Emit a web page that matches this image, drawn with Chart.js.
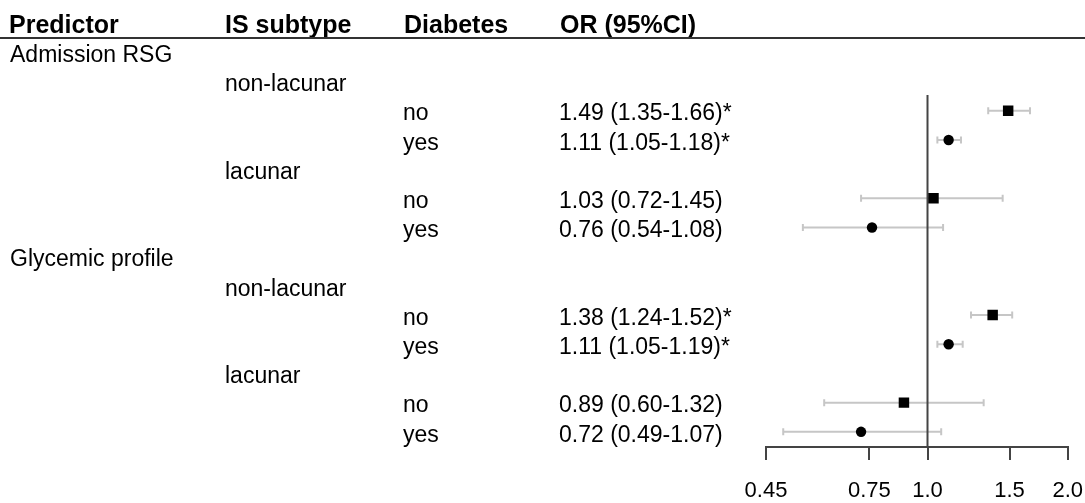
<!DOCTYPE html>
<html><head><meta charset="utf-8">
<script src="https://cdn.jsdelivr.net/npm/chart.js@4.4.1/dist/chart.umd.min.js"></script>
<style>html,body{margin:0;padding:0;background:#fff;} canvas{display:block;}</style>
</head><body>
<canvas id="c" width="1085" height="503"></canvas>
<script>
const predictors = ['Admission RSG', 'Glycemic profile'];
const subtypes = ['non-lacunar', 'lacunar'];
const diabetesLevels = ['no', 'yes'];
const headers = ['Predictor', 'IS subtype', 'Diabetes', 'OR (95%CI)'];
const oddsRatios = [1.49, 1.11, 1.03, 0.76, 1.38, 1.11, 0.89, 0.72];
const ciLower = [1.35, 1.05, 0.72, 0.54, 1.24, 1.05, 0.60, 0.49];
const ciUpper = [1.66, 1.18, 1.45, 1.08, 1.52, 1.19, 1.32, 1.07];
const significant = [true, true, false, false, true, true, false, false];
const tickValues = [0.45, 0.75, 1.0, 1.5, 2.0];
const tickLabels = ['0.45', '0.75', '1.0', '1.5', '2.0'];

function fmtOR(k) {
  return oddsRatios[k].toFixed(2) + ' (' + ciLower[k].toFixed(2) + '-' + ciUpper[k].toFixed(2) + ')' + (significant[k] ? '*' : '');
}

// build table rows
const textRows = [];
const estimates = [];
let rowIdx = 0, k = 0;
predictors.forEach(p => {
  textRows.push({row: rowIdx++, col: 0, text: p});
  subtypes.forEach(s => {
    textRows.push({row: rowIdx++, col: 1, text: s});
    diabetesLevels.forEach((d, di) => {
      textRows.push({row: rowIdx, col: 2, text: d});
      textRows.push({row: rowIdx, col: 3, text: fmtOR(k)});
      estimates.push({row: rowIdx, k: k, d: di});
      rowIdx++; k++;
    });
  });
});

const colX = [10, 225, 403, 559];
const headerX = [9, 225, 404, 560];
const FONT = '"Liberation Sans", Arial, Helvetica, sans-serif';

const forestPlugin = {
  id: 'forest',
  beforeDatasetsDraw(chart) {
    const {ctx, chartArea} = chart;
    const x = chart.scales.x, y = chart.scales.y;
    ctx.save();
    ctx.strokeStyle = '#c6c6c6';
    ctx.lineWidth = 2;
    estimates.forEach(e => {
      const py = y.getPixelForValue(e.row);
      const x1 = x.getPixelForValue(ciLower[e.k]);
      const x2 = x.getPixelForValue(ciUpper[e.k]);
      ctx.beginPath();
      ctx.moveTo(x1, py); ctx.lineTo(x2, py);
      ctx.moveTo(x1, py - 3.5); ctx.lineTo(x1, py + 3.5);
      ctx.moveTo(x2, py - 3.5); ctx.lineTo(x2, py + 3.5);
      ctx.stroke();
    });
    const x0 = x.getPixelForValue(1);
    ctx.strokeStyle = '#444';
    ctx.lineWidth = 2;
    ctx.beginPath();
    ctx.moveTo(x0, chartArea.top);
    ctx.lineTo(x0, chartArea.bottom);
    ctx.stroke();
    ctx.restore();
  },
  afterDraw(chart) {
    const {ctx} = chart;
    const y = chart.scales.y;
    ctx.save();
    ctx.fillStyle = '#000';
    ctx.textBaseline = 'alphabetic';
    ctx.textAlign = 'left';
    const hb = y.getPixelForValue(-1) + 10;
    ctx.font = 'bold 25px ' + FONT;
    headers.forEach((h, i) => ctx.fillText(h, headerX[i], hb));
    ctx.strokeStyle = '#333';
    ctx.lineWidth = 2;
    ctx.beginPath();
    ctx.moveTo(0, 38); ctx.lineTo(chart.width, 38);
    ctx.stroke();
    ctx.font = '23px ' + FONT;
    textRows.forEach(t => {
      ctx.fillText(t.text, colX[t.col], y.getPixelForValue(t.row) + 9.7);
    });
    ctx.restore();
  }
};

const squares = estimates.filter(e => e.d === 0).map(e => ({x: oddsRatios[e.k], y: e.row}));
const circles = estimates.filter(e => e.d === 1).map(e => ({x: oddsRatios[e.k], y: e.row}));

new Chart(document.getElementById('c'), {
  type: 'scatter',
  data: {
    datasets: [
      {label: 'no', data: squares, pointStyle: 'rect', pointRadius: 7.4, backgroundColor: '#000', borderColor: '#000', borderWidth: 0},
      {label: 'yes', data: circles, pointStyle: 'circle', pointRadius: 5.2, backgroundColor: '#000', borderColor: '#000', borderWidth: 0}
    ]
  },
  options: {
    responsive: false,
    animation: false,
    events: [],
    layout: {padding: {left: 766, right: 1, top: 95, bottom: 0}},
    plugins: {legend: {display: false}, tooltip: {enabled: false}},
    scales: {
      x: {
        type: 'logarithmic',
        min: 0.45,
        max: 2.0,
        afterBuildTicks: (scale) => { scale.ticks = tickValues.map(v => ({value: v})); },
        afterFit: (scale) => { scale.height = 56; },
        grid: {drawOnChartArea: false, drawTicks: true, tickLength: 13, color: '#444', lineWidth: 2},
        border: {display: true, color: '#444', width: 2},
        ticks: {
          autoSkip: false, maxRotation: 0, padding: 2, color: '#000',
          font: {family: FONT, size: 22, lineHeight: 2.65},
          callback: (v, i) => tickLabels[i]
        }
      },
      y: {
        type: 'linear', display: false, reverse: true, min: 1.46, max: 13.52
      }
    }
  },
  plugins: [forestPlugin]
});
</script>
</body></html>
